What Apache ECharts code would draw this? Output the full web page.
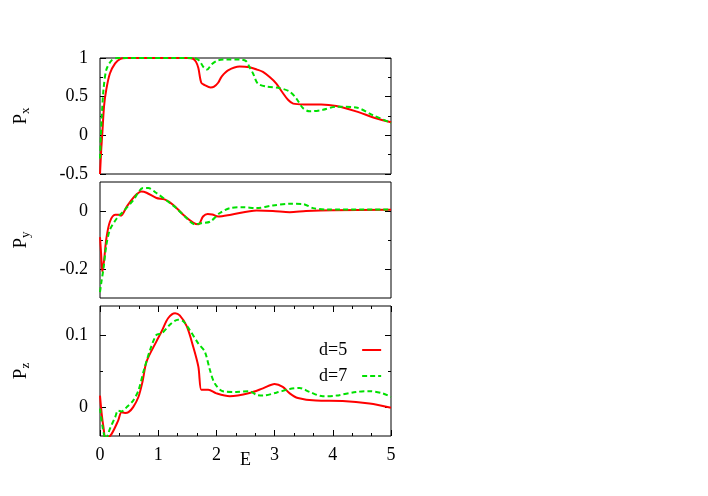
<!DOCTYPE html>
<html>
<head>
<meta charset="utf-8">
<script src="https://cdn.jsdelivr.net/npm/echarts@6/dist/echarts.min.js"></script>
<style>html,body{margin:0;padding:0;background:#fff}#c{width:708px;height:496px}</style>
</head>
<body>
<div id="c"></div>
<script>
// ---------- data ----------
const pxD5 = [[0,-0.5],[0.02,-0.2],[0.04,0.03],[0.07,0.38],[0.11,0.6],[0.17,0.8],[0.26,0.93],[0.35,0.99],[0.45,1.0],[1.0,1.0],[1.5,1.0],[1.6,0.99],[1.65,0.95],[1.69,0.87],[1.74,0.68],[1.8,0.65],[1.9,0.62],[1.96,0.63],[2.03,0.68],[2.09,0.76],[2.2,0.84],[2.4,0.89],[2.57,0.88],[2.7,0.85],[2.8,0.82],[2.92,0.75],[3.03,0.67],[3.13,0.56],[3.23,0.46],[3.32,0.41],[3.5,0.4],[3.8,0.4],[4.06,0.38],[4.4,0.31],[4.74,0.22],[5,0.17]];
const pxD7 = [[0,-0.3],[0.015,0.0],[0.03,0.24],[0.06,0.59],[0.11,0.85],[0.2,0.97],[0.3,1.0],[1.6,1.0],[1.7,0.97],[1.78,0.88],[1.84,0.85],[1.92,0.92],[2.03,0.97],[2.2,0.98],[2.4,0.98],[2.51,0.96],[2.57,0.88],[2.63,0.8],[2.71,0.67],[2.86,0.63],[3.09,0.61],[3.26,0.565],[3.37,0.48],[3.49,0.35],[3.6,0.31],[3.83,0.33],[4.06,0.37],[4.4,0.36],[4.69,0.26],[5,0.16]];
const pyD5 = [[0,-0.09],[0.02,-0.15],[0.04,-0.21],[0.07,-0.17],[0.11,-0.094],[0.17,-0.037],[0.26,-0.013],[0.33,-0.013],[0.36,-0.016],[0.46,0.015],[0.57,0.045],[0.71,0.067],[0.8,0.063],[0.97,0.045],[1.11,0.04],[1.26,0.021],[1.43,-0.013],[1.6,-0.04],[1.69,-0.046],[1.77,-0.019],[1.85,-0.01],[1.93,-0.012],[2.03,-0.019],[2.25,-0.013],[2.69,0.0015],[2.97,0.0],[3.26,-0.004],[3.54,0.0],[4,0.003],[5,0.004]];
const pyD7 = [[0,-0.28],[0.02,-0.25],[0.06,-0.198],[0.11,-0.117],[0.17,-0.065],[0.29,-0.025],[0.4,-0.002],[0.57,0.037],[0.74,0.079],[0.83,0.079],[0.97,0.062],[1.14,0.037],[1.31,0.01],[1.49,-0.025],[1.63,-0.046],[1.74,-0.042],[1.89,-0.037],[2.06,-0.007],[2.23,0.01],[2.46,0.013],[2.69,0.01],[2.97,0.019],[3.26,0.025],[3.49,0.024],[3.66,0.01],[3.9,0.005],[5,0.005]];
const pzD5 = [[0,0.016],[0.03,-0.01],[0.06,-0.028],[0.1,-0.045],[0.2,-0.037],[0.31,-0.019],[0.37,-0.007],[0.43,-0.008],[0.49,-0.007],[0.57,0.0],[0.66,0.014],[0.73,0.035],[0.8,0.063],[0.97,0.091],[1.06,0.105],[1.17,0.123],[1.29,0.13],[1.37,0.127],[1.49,0.112],[1.6,0.084],[1.69,0.056],[1.74,0.024],[1.8,0.024],[1.86,0.024],[2.0,0.019],[2.23,0.015],[2.57,0.0195],[2.8,0.026],[3.0,0.032],[3.14,0.028],[3.26,0.019],[3.4,0.0126],[3.71,0.009],[4.17,0.0085],[4.63,0.005],[5,-0.001]];
const pzD7 = [[0,-0.002],[0.05,-0.03],[0.1,-0.045],[0.17,-0.03],[0.26,-0.014],[0.31,-0.005],[0.37,-0.006],[0.46,0.0],[0.57,0.009],[0.66,0.023],[0.75,0.05],[0.86,0.079],[0.97,0.1],[1.06,0.102],[1.2,0.114],[1.34,0.121],[1.43,0.119],[1.54,0.107],[1.69,0.088],[1.8,0.077],[1.89,0.051],[1.97,0.033],[2.11,0.022],[2.34,0.021],[2.57,0.022],[2.69,0.017],[2.8,0.016],[3.03,0.02],[3.26,0.025],[3.43,0.0265],[3.6,0.021],[3.83,0.015],[4.06,0.016],[4.4,0.021],[4.63,0.022],[4.86,0.019],[5,0.014]];

const seriesNames = ['d=5', 'd=7'];
const xRange = [0, 5];
const xMajor = [0, 1, 2, 3, 4, 5];
const xMinor = [0.333, 0.667, 1.333, 1.667, 2.333, 2.667, 3.333, 3.667, 4.333, 4.667];
const pxRange = [-0.5, 1];
const pyRange = [-0.3, 0.1];
const pzRange = [-0.04, 0.14];
const pxMajor = [-0.5, 0, 0.5, 1];
const pxMinor = [-0.25, 0.25, 0.75];
const pyMajor = [-0.2, 0];
const pyMinor = [-0.1];
const pzMajor = [0, 0.1];
const pzMinor = [0.05];

// ---------- styling ----------
const FONT = 'Liberation Serif';
const FS = 18;
const RED = '#ff0000';
const GREEN = '#00e000';
const TICK = '#000';
const GW = 291;
const grids = [
  {left: 100, top: 58, width: GW, height: 116},
  {left: 100, top: 182, width: GW, height: 116},
  {left: 100, top: 306, width: GW, height: 130}
].map(g => Object.assign(g, {show: true, borderColor: '#000', borderWidth: 1}));

function hiddenX(gi) {
  return {type: 'value', gridIndex: gi, min: xRange[0], max: xRange[1],
    axisLine: {show: false, onZero: false}, axisTick: {show: false}, axisLabel: {show: false}, splitLine: {show: false}};
}
function labelX(gi) {
  return {type: 'value', gridIndex: gi, position: 'bottom', min: xRange[0], max: xRange[1],
    axisLine: {show: false, onZero: false}, axisTick: {show: false},
    axisLabel: {show: true, customValues: xMajor, margin: 10, color: '#000', fontFamily: FONT, fontSize: FS},
    splitLine: {show: false},
    name: 'E', nameLocation: 'middle', nameGap: 15, nameMoveOverlap: false,
    nameTextStyle: {color: '#000', fontFamily: FONT, fontSize: FS}};
}
function tickX(gi, ticks, len, offset, inside) {
  return {type: 'value', gridIndex: gi, position: 'top', offset: offset, min: xRange[0], max: xRange[1],
    axisLine: {show: false, onZero: false},
    axisTick: {show: true, inside: inside, length: len, customValues: ticks, lineStyle: {color: TICK, width: 1}},
    axisLabel: {show: false, customValues: ticks}, splitLine: {show: false}};
}
function labelY(gi, range, labels, name) {
  return {type: 'value', gridIndex: gi, position: 'left', min: range[0], max: range[1],
    axisLine: {show: false, onZero: false}, axisTick: {show: false},
    axisLabel: {show: true, customValues: labels, margin: 12, color: '#000', fontFamily: FONT, fontSize: FS},
    splitLine: {show: false},
    name: '{p|P}{s|' + name + '}', nameLocation: 'middle', nameRotate: 90, nameGap: 68, nameMoveOverlap: false,
    nameTextStyle: {rich: {
      p: {fontFamily: FONT, fontSize: 19, color: '#000', lineHeight: 22},
      s: {fontFamily: FONT, fontSize: 13, color: '#000', lineHeight: 6, verticalAlign: 'bottom'}
    }}};
}
function tickY(gi, range, ticks, len, offset, inside) {
  return {type: 'value', gridIndex: gi, position: 'right', offset: offset, min: range[0], max: range[1],
    axisLine: {show: false, onZero: false},
    axisTick: {show: true, inside: inside, length: len, customValues: ticks, lineStyle: {color: TICK, width: 1}},
    axisLabel: {show: false, customValues: ticks}, splitLine: {show: false}};
}

const H3 = grids[2].height;
const xAxis = [
  hiddenX(0), hiddenX(1),
  labelX(2),
  tickX(2, xMajor, 6, 0, true),
  tickX(2, xMinor, 3, 0, true),
  tickX(2, xMajor, 6, -H3, false),
  tickX(2, xMinor, 3, -H3, false)
];
const yAxis = [];
function addY(gi, range, major, minor, name) {
  const idx = yAxis.length;
  yAxis.push(labelY(gi, range, major, name));
  yAxis.push(tickY(gi, range, major, 6, 0, true));
  yAxis.push(tickY(gi, range, minor, 3, 0, true));
  yAxis.push(tickY(gi, range, major, 6, -GW, false));
  yAxis.push(tickY(gi, range, minor, 3, -GW, false));
  return idx;
}
const yPx = addY(0, pxRange, pxMajor, pxMinor, 'x');
const yPy = addY(1, pyRange, pyMajor, pyMinor, 'y');
const yPz = addY(2, pzRange, pzMajor, pzMinor, 'z');

function line(name, data, xi, yi, color, dashed) {
  return {type: 'line', name: name, data: data, xAxisIndex: xi, yAxisIndex: yi,
    showSymbol: false, symbol: 'none', smooth: 0.3, clip: true,
    lineStyle: {color: color, width: 2, type: dashed ? [5, 3] : 'solid'},
    itemStyle: {color: color}, z: dashed ? 3 : 2};
}

const series = [
  line(seriesNames[0], pxD5, 0, yPx, RED, false),
  line(seriesNames[1], pxD7, 0, yPx, GREEN, true),
  line(seriesNames[0], pyD5, 1, yPy, RED, false),
  line(seriesNames[1], pyD7, 1, yPy, GREEN, true),
  line(seriesNames[0], pzD5, 2, yPz, RED, false),
  line(seriesNames[1], pzD7, 2, yPz, GREEN, true)
];

const chart = echarts.init(document.getElementById('c'), null, {renderer: 'canvas'});
chart.setOption({
  animation: false,
  backgroundColor: '#fff',
  grid: grids,
  xAxis: xAxis,
  yAxis: yAxis,
  legend: {
    data: seriesNames, orient: 'vertical', align: 'right',
    left: 319, top: 341, padding: 0, itemWidth: 19, itemHeight: 14, itemGap: 8,
    selectedMode: false,
    itemStyle: {opacity: 0, borderWidth: 0},
    textStyle: {fontFamily: FONT, fontSize: FS, color: '#000', padding: [0, 10, 0, 0]}
  },
  series: series
});
</script>
</body>
</html>
